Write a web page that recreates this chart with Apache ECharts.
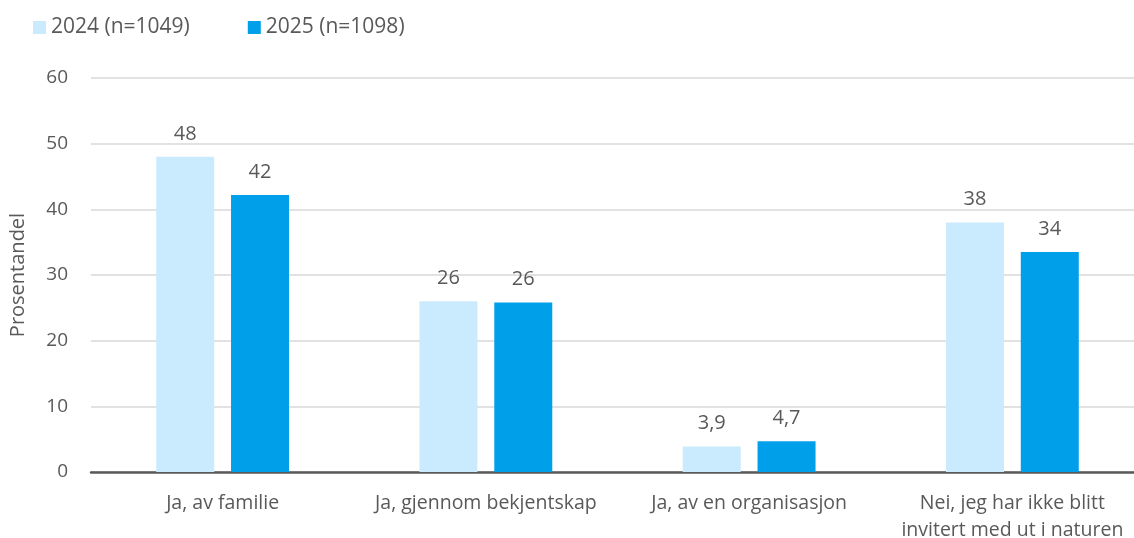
<!DOCTYPE html>
<html><head><meta charset="utf-8">
<script src="https://cdn.jsdelivr.net/npm/echarts@6/dist/echarts.min.js"></script>
<style>html,body{margin:0;padding:0;background:#fff}#c{width:1134px;height:538px}</style>
</head><body><div id="c"></div>
<script>
const categories = ['Ja, av familie', 'Ja, gjennom bekjentskap', 'Ja, av en organisasjon', 'Nei, jeg har ikke blitt\ninvitert med ut i naturen'];
const seriesNames = ['2024 (n=1049)', '2025 (n=1098)'];
const values2024 = [48, 26, 3.9, 38];
const values2025 = [42.2, 25.8, 4.7, 33.5];
const colors = ['#c9ebfd', '#009fea'];
const txt = '#595959';
const font = 'Open Sans';
function fmt(p){ const v=p.value; return v < 10 ? String(v).replace('.', ',') : String(Math.round(v)); }
const chart = echarts.init(document.getElementById('c'), null, {renderer:'canvas'});
chart.setOption({
  animation:false,
  textStyle:{fontFamily:font},
  legend:{left:28, top:12, itemWidth:13, itemHeight:13, itemGap:58, icon:'rect',
    textStyle:{color:txt, fontSize:21, fontFamily:font}, data:seriesNames},
  grid:{left:91, top:78, bottom:66, width:1053, containLabel:false, outerBoundsMode:'none'},
  xAxis:{type:'category', data:categories,
    axisLine:{lineStyle:{color:'#595959', width:2.5}}, axisTick:{show:false},
    axisLabel:{color:txt, fontSize:19.5, fontFamily:font, margin:18, lineHeight:27, interval:0}},
  yAxis:{type:'value', min:0, max:60, interval:10,
    name:'Prosentandel', nameLocation:'middle', nameGap:63, nameRotate:90,
    nameTextStyle:{color:txt, fontSize:20, fontFamily:font},
    axisLabel:{color:txt, fontSize:19, fontFamily:font, margin:23},
    splitLine:{lineStyle:{color:'#d9d9d9', width:1.5}}, axisLine:{show:false}, axisTick:{show:false}},
  series:[
    {name:seriesNames[0], type:'bar', data:values2024, barWidth:58, barGap:'29%',
     itemStyle:{color:colors[0]},
     label:{show:true, position:'top', distance:13, color:txt, fontSize:20, fontFamily:font, formatter:fmt}},
    {name:seriesNames[1], type:'bar', data:values2025, barWidth:58,
     itemStyle:{color:colors[1]},
     label:{show:true, position:'top', distance:13, color:txt, fontSize:20, fontFamily:font, formatter:fmt}}
  ]
});
</script></body></html>
